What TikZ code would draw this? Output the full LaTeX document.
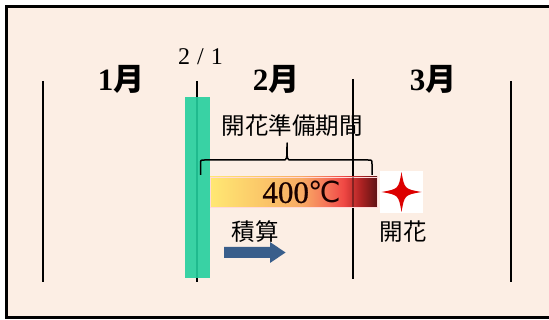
\documentclass[tikz,border=0pt]{standalone}
\usepackage{fontspec}
\setmainfont{Liberation Serif}
\newfontfamily\cjk{Noto Sans CJK JP}
\newfontfamily\dvs{DejaVu Sans}
\newfontfamily\heavyserif[FakeBold=0.8]{Liberation Serif}
\definecolor{bgc}{RGB}{252,238,228}
\definecolor{bargreen}{RGB}{36,207,158}
\definecolor{starred}{RGB}{220,0,0}
\definecolor{arrowblue}{RGB}{57,94,139}
\definecolor{h0}{RGB}{255,232,115}
\definecolor{h1}{RGB}{251,200,105}
\definecolor{h2}{RGB}{248,170,100}
\definecolor{h3}{RGB}{245,115,88}
\definecolor{h4}{RGB}{240,72,68}
\definecolor{h5}{RGB}{175,35,35}
\definecolor{h6}{RGB}{95,18,18}
\pgfdeclarehorizontalshading{heat}{100bp}{color(0bp)=(h0); color(25bp)=(h0); color(40bp)=(h1); color(52.5bp)=(h2); color(60bp)=(h3); color(65bp)=(h4); color(70bp)=(h5); color(75bp)=(h6); color(100bp)=(h6)}
\tikzset{
  month/.style={font=\fontsize{31}{33}\selectfont\bfseries, inner sep=0pt},
  cjklabel/.style={font=\cjk\fontsize{23.5}{25}\selectfont, inner sep=0pt},
  tick/.style={line width=2pt, black},
}
\begin{document}
\begin{tikzpicture}[x=1pt,y=-1pt]
\useasboundingbox (0,0) rectangle (549,320);
\clip (0,0) rectangle (549,320);
\fill[white] (0,0) rectangle (549,320);
% frame
\draw[line width=2.6pt, fill=bgc] (6.5,6.5) rectangle (600,317.5);
% vertical month separators
\coordinate (l1t) at (43,81);  \coordinate (l1b) at (43,282);
\coordinate (l2t) at (197,81); \coordinate (l2b) at (197,282);
\coordinate (l3t) at (352.5,79); \coordinate (l3b) at (352.5,279);
\coordinate (l4t) at (510.5,81); \coordinate (l4b) at (510.5,282);
\draw[tick] (l1t) -- (l1b);
\draw[tick] (l2t) -- (l2b);
\draw[tick] (l3t) -- (l3b);
\draw[tick] (l4t) -- (l4b);
% month labels
\node[month] (m1) at (121,79) {1{\cjk\bfseries 月}};
\node[month] (m2) at (276,79) {2{\cjk\bfseries 月}};
\node[month] (m3) at (433,79) {3{\cjk\bfseries 月}};
\node[inner sep=0pt, font=\fontsize{24}{26}\selectfont] (d21) at (200.5,57) {2\hspace{7pt}/\hspace{7pt}1};
% green bar
\fill[bargreen, opacity=0.9] (184.5,97) rectangle (210,278);
% period label and brace
\node[cjklabel] (period) at (292,126) {開花準備期間};
\coordinate (bl) at (200.5,175);
\coordinate (br) at (372,175);
\coordinate (bc) at (287,143);
\draw[line width=1.5pt, line join=round]
  (bl) -- (200.5,164) .. controls (200.5,160) .. (204.5,160) -- (283,160) .. controls (287,160) .. (bc)
  .. controls (287,160) .. (291,160) -- (368,160) .. controls (372,160) .. (372,164) -- (br);
% heat bar
\shade[shading=heat] (210,177) rectangle (377,207);
\draw[pink!60!white, line width=0.6pt] (210,177) rectangle (377,207);
\draw[line width=2pt, black, opacity=0.35] (352.5,177) -- (352.5,207);
\node[inner sep=0pt, text=black!90!red] (temp) at (302,192)
  {{\heavyserif\fontsize{31}{33}\selectfont 400}\raisebox{0.5pt}{\dvs\fontsize{29}{31}\selectfont ℃}};
% bloom star
\fill[white] (380,171) rectangle (423,213);
\coordinate (sc) at (401.5,192);
\fill[starred] (381.5,192) .. controls (398.5,189) .. (401.5,172)
  .. controls (404.5,189) .. (421.5,192)
  .. controls (404.5,195) .. (401.5,212)
  .. controls (398.5,195) .. cycle;
\node[cjklabel] (bloom) at (403,232) {開花};
% accumulation
\node[cjklabel] (accum) at (255,232) {積算};
\fill[arrowblue] (224,247) -- (270,247) -- (270,242) -- (285.5,252.5) -- (270,263) -- (270,258) -- (224,258) -- cycle;
\end{tikzpicture}
\end{document}
